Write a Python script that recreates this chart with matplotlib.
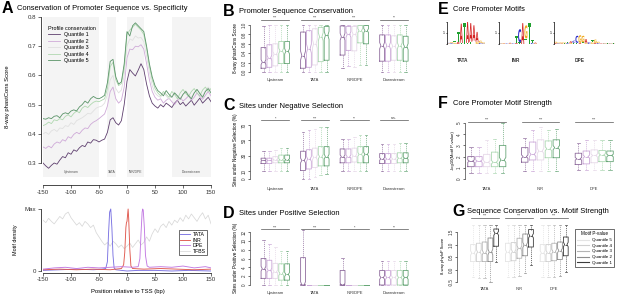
import numpy as np
import matplotlib
matplotlib.use('Agg')
import matplotlib.pyplot as plt
from matplotlib.lines import Line2D
from matplotlib.textpath import TextPath
from matplotlib.patches import PathPatch
from matplotlib.font_manager import FontProperties
import matplotlib.transforms as mtransforms

plt.rcParams['font.family'] = ['Liberation Sans', 'DejaVu Sans']
plt.rcParams['axes.unicode_minus'] = False
plt.rcParams['axes.linewidth'] = 0.5

# ---------------- data ----------------
# panel A, conservation profiles (every 5 bp from -150 to 150)
bp = np.arange(-150, 151, 5)
q1_prof = [.300, .290, .282, .292, .300, .296, .310, .322, .318, .335, .330, .345, .340, .352, .360, .356,
           .372, .368, .380, .378, .372, .378, .382, .405, .448, .455, .438, .430, .445, .500, .580, .620,
           .608, .598, .618, .640, .620, .570, .530, .505, .495, .488, .500, .492, .505, .498, .490, .505,
           .515, .500, .508, .495, .505, .515, .498, .510, .522, .505, .515, .525, .510]
q2_prof = [.355, .350, .358, .352, .365, .372, .368, .380, .375, .390, .385, .398, .405, .400, .412, .420,
           .418, .432, .440, .445, .452, .460, .468, .495, .545, .560, .520, .505, .515, .560, .660, .690,
           .688, .700, .698, .705, .690, .640, .585, .545, .525, .515, .520, .505, .515, .522, .510, .500,
           .515, .525, .512, .520, .530, .515, .525, .540, .528, .518, .532, .545, .530]
q3_prof = [.400, .405, .398, .410, .415, .408, .420, .418, .428, .425, .438, .432, .445, .450, .455, .462,
           .470, .468, .478, .488, .492, .495, .505, .535, .585, .600, .555, .540, .550, .600, .700, .725,
           .720, .735, .728, .730, .715, .665, .610, .565, .540, .530, .525, .540, .530, .518, .530, .542,
           .528, .520, .535, .548, .535, .525, .540, .552, .540, .530, .548, .560, .548]
q4_prof = [.428, .432, .440, .435, .448, .445, .452, .448, .460, .465, .458, .470, .478, .472, .488, .495,
           .490, .500, .508, .512, .510, .515, .520, .555, .630, .645, .585, .565, .572, .625, .740, .755,
           .765, .775, .765, .755, .740, .690, .630, .585, .555, .540, .530, .545, .535, .525, .545, .535,
           .520, .540, .552, .538, .528, .545, .555, .540, .530, .550, .560, .545, .555]
q5_prof = [.452, .450, .455, .452, .460, .462, .455, .468, .472, .468, .478, .482, .478, .492, .500, .512,
           .505, .520, .528, .522, .520, .525, .532, .575, .648, .655, .595, .570, .578, .640, .750, .735,
           .770, .780, .770, .760, .750, .700, .640, .595, .565, .548, .540, .530, .548, .535, .525, .540,
           .530, .518, .535, .545, .530, .520, .540, .552, .538, .525, .545, .555, .540]
profiles = [q1_prof, q2_prof, q3_prof, q4_prof, q5_prof]
prof_labels = ['Quantile 1', 'Quantile 2', 'Quantile 3', 'Quantile 4', 'Quantile 5']

# panel A, motif density (relative to max)
tfbs_y = [.82, .78, .85, .80, .76, .82, .88, .84, .92, .95, .86, .80, .74, .78, .72, .80, .76, .70, .74,
          .62, .55, .48, .42, .46, .40, .48, .44, .38, .42, .36, .40, .45, .38, .44, .50, .42, .46, .55,
          .48, .60, .68, .62, .72, .76, .70, .80, .74, .82, .78, .86, .80, .90, .84, .92, .86, .80, .88,
          .94, .84, .90, .76]
tata_x = [-150, -120, -90, -60, -45, -38, -35, -33, -31, -29, -27, -25, -23, -20, -10, 0, 20, 50, 80, 110, 150]
tata_y = [.01, .02, .03, .02, .03, .04, .15, .60, .95, 1.0, .70, .25, .05, .02, .01, .0, .01, .01, .0, .01, .0]
inr_x = [-150, -120, -90, -60, -30, -10, -6, -4, -2, -1, 0, 1, 2, 3, 5, 7, 10, 30, 60, 90, 120, 150]
inr_y = [.02, .03, .02, .03, .02, .04, .10, .30, .70, .78, .80, .90, 1.0, .85, .35, .08, .04, .03, .04, .03, .02, .03]
dpe_x = [-150, -130, -110, -90, -70, -50, -30, -10, 10, 20, 23, 25, 27, 28, 29, 31, 33, 36, 40, 60, 80, 100, 120, 140, 150]
dpe_y = [.03, .05, .06, .04, .06, .05, .06, .07, .06, .07, .20, .60, .95, 1.0, .98, .70, .25, .08, .06, .07,
         .06, .08, .05, .07, .05]

regions = ['Upstream', 'TATA', 'INR/DPE', 'Downstream']

# panel B, phastCons per region x quantile
b_lo = [[0, 0, 0, 0, 0], [0, 0, 0, 0, 0], [.08, .12, .10, .15, .15], [0, 0, 0, 0, 0]]
b_q1 = [[.08, .10, .13, .18, .18], [.08, .10, .15, .22, .25], [.36, .46, .45, .62, .60], [.23, .23, .25, .25, .23]]
b_med = [[.21, .30, .38, .45, .44], [.35, .50, .60, .75, .78], [.75, .80, .80, .88, .88], [.56, .56, .55, .56, .54]]
b_q3 = [[.52, .58, .60, .65, .65], [.85, .88, .92, .95, .97], [.98, .97, .97, .99, .99], [.79, .79, .77, .79, .76]]
b_hi = [[.97, 1, 1, 1, 1], [1, 1, 1, 1, 1], [1, 1, 1, 1, 1], [1, 1, 1, 1, 1]]
b_sig = ['***', '***', '***', '**']

# panel C, negative selection (%)
c_lo = [[11, 11, 11, 11, 11], [0, 0, 2, 5, 6], [11, 11, 11, 10, 10], [10, 10, 10, 10, 10]]
c_q1 = [[20, 20, 21, 21, 21], [11, 13, 15, 17, 17], [21, 21, 22, 21, 21], [20, 20, 20, 21, 21]]
c_med = [[24, 24, 25, 25, 25], [24, 26, 28, 29, 29], [29, 29, 30, 32, 32], [26, 26, 26, 27, 27]]
c_q3 = [[27, 27, 29, 31, 31], [36, 38, 40, 42, 42], [39, 39, 40, 42, 42], [33, 33, 33, 34, 34]]
c_hi = [[36, 36, 38, 40, 40], [61, 63, 65, 67, 67], [52, 52, 54, 57, 57], [45, 45, 45, 47, 47]]
c_sig = ['*', '***', '**', 'n.s.']

# panel D, positive selection (%)
d_lo = [[0, 0, 0, 0, 0]] * 4
d_q1 = [[1.5, 1.5, 1.5, 1.1, 1.1], [0, 0, 0, 0, 0], [0, 0, 0, 0, 0], [0, 0, 0, 0, 0]]
d_med = [[3.7, 3.3, 3.0, 2.6, 2.4], [0, 0, 0, 0, 0], [0, 0, 0, 0, 0], [1.7, 1.7, 1.7, 1.7, 1.7]]
d_q3 = [[6.0, 5.6, 4.9, 4.8, 4.8], [6.2, 0, 0, 0, 0], [3.3, 0, 0, 0, 0], [3.3, 3.3, 3.3, 3.3, 3.3]]
d_hi = [[10.2, 9.2, 8.5, 7.7, 7.7], [12.4, 0, 0, 0, 0], [6.1, 0, 0, 0, 0], [5.4, 5.4, 5.4, 5.4, 5.4]]
d_sig = ['***', '***', '*', '**']

motifs = ['TATA', 'INR', 'DPE']

# panel F, -log10 motif p-value
f_lo = [[.55, .55, .55, .55, .55], [.7, .7, .7, .7, .7], [.8, .8, .8, .8, .8]]
f_q1 = [[1.1, 1.1, 1.1, 1.1, 1.1], [1.5, 1.7, 1.7, 1.9, 1.9], [1.3, 1.35, 1.45, 1.55, 1.55]]
f_med = [[1.6, 1.6, 1.5, 1.5, 1.7], [2.0, 2.2, 2.5, 2.7, 2.8], [1.8, 2.0, 2.1, 2.15, 2.1]]
f_q3 = [[2.0, 2.0, 2.2, 2.4, 3.0], [2.8, 3.3, 3.5, 3.4, 3.5], [2.3, 2.5, 2.6, 2.55, 2.5]]
f_hi = [[2.9, 2.9, 3.5, 3.6, 5.0], [3.7, 4.4, 4.6, 4.4, 4.5], [3.2, 3.5, 3.5, 3.5, 3.5]]
f_sig = ['***', '***', '***']

# panel G, phyloP by motif p-value quantile (5 -> 1)
g_lo = [[-.3, -.35, -.35, -.5, .32], [-.3, -.3, -.25, -.15, .2], [-.3, -.3, -.3, -.25, -.1]]
g_q1 = [[.32, .32, .32, .32, .93], [.32, .35, .45, .55, .90], [.32, .32, .35, .40, .55]]
g_med = [[.66, .70, .68, .70, 1.45], [.70, .72, .85, .98, 1.35], [.66, .68, .72, .76, 1.0]]
g_q3 = [[1.0, 1.05, 1.1, 1.26, 1.62], [1.05, 1.08, 1.25, 1.42, 1.6], [1.0, 1.0, 1.05, 1.1, 1.3]]
g_hi = [[1.8, 1.8, 1.8, 1.8, 1.8], [1.8, 1.8, 1.8, 1.8, 1.8], [1.8, 1.8, 1.8, 1.8, 1.8]]
g_sig = ['***', '***', '***']
g_labels = ['Quantile 5', 'Quantile 4', 'Quantile 3', 'Quantile 2', 'Quantile 1']

# panel E, sequence logos (letter, bits) per column
tata_logo = [[('G', .05), ('C', .05)], [('C', .08), ('G', .1)], [('G', .1), ('T', .15)], [('A', .2), ('T', .9)],
             [('T', .1), ('A', 1.75)], [('T', 1.95)], [('T', .1), ('A', 1.9)], [('T', .2), ('A', 1.7)],
             [('T', .3), ('A', 1.4)], [('G', .2), ('A', .9)], [('C', .1), ('G', .2)], [('C', .05), ('G', .1)]]
inr_logo = [[('C', .04), ('G', .04)], [('A', .04), ('G', .04)], [('C', .05), ('T', .05)], [('G', .05), ('A', .06)],
            [('C', .05), ('T', .08)], [('A', .1), ('T', .6)], [('T', .15), ('C', 1.2)], [('A', 1.9)],
            [('T', .5), ('G', 1.2)], [('T', 1.95)], [('C', .1), ('T', .25)], [('G', .05), ('A', .08)]]
dpe_logo = [[('A', .08), ('G', .12)], [('C', .06), ('G', .08)], [('A', .05), ('G', .1)], [('T', .06), ('G', .08)],
            [('C', .1), ('T', .1)], [('G', .1), ('A', .15)], [('T', .1), ('C', .2)], [('T', .1), ('C', .65)],
            [('A', .1), ('G', .7)], [('T', .15), ('G', .6)], [('G', .1), ('A', .35)], [('C', .15), ('T', .25)],
            [('G', .15), ('T', .2)], [('A', .1), ('G', .3)], [('C', .08), ('G', .12)], [('A', .05), ('T', .06)],
            [('C', .04), ('G', .05)], [('A', .04), ('T', .04)], [('C', .04), ('G', .04)], [('A', .04), ('T', .04)]]

# ---------------- style ----------------
prof_cols = ['#5e3f6e', '#cfaad8', '#e0e0e0', '#b0d8b0', '#5a9468']
box_cols = ['#8f6c9d', '#cba8d8', '#e6d8e8', '#acd8b2', '#68a678']
grey_cols = ['#e4e4e4', '#d0d0d0', '#b4b4b4', '#8e8e8e', '#3c3c3c']
base_cols = {'A': '#d42020', 'C': '#2525c8', 'G': '#f0a818', 'T': '#20a030'}
shade = '#f4f4f4'

W, H = 617, 296
fig = plt.figure(figsize=(W / 100, H / 100), dpi=100)


def make_ax(x0, x1, y0, y1, xa, xb, ya, yb):
    # pixel box, plus two (pixel, value) anchors per axis
    ax = fig.add_axes([x0 / W, 1 - y1 / H, (x1 - x0) / W, (y1 - y0) / H])
    sx = (xb[1] - xa[1]) / (xb[0] - xa[0])
    ax.set_xlim(xa[1] + (x0 - xa[0]) * sx, xa[1] + (x1 - xa[0]) * sx)
    sy = (yb[1] - ya[1]) / (yb[0] - ya[0])
    ax.set_ylim(ya[1] + (y1 - ya[0]) * sy, ya[1] + (y0 - ya[0]) * sy)
    ax.patch.set_visible(False)
    return ax


def r_axis(ax, yticks, fs=3.3, rot=True):
    for s in ['top', 'right', 'bottom']:
        ax.spines[s].set_visible(False)
    ax.spines['left'].set_bounds(yticks[0], yticks[-1])
    ax.spines['left'].set_color('#444444')
    ax.set_yticks(yticks)
    ax.tick_params(axis='y', length=1.5, width=0.5, pad=0.8, labelsize=fs, colors='#333333')
    if rot:
        for lab in ax.get_yticklabels():
            lab.set_rotation(90)
            lab.set_va('center')


def box_panel(ax, lo, q1, med, q3, hi, cols, pitch, names, sig, sig_y, pad):
    for g in range(len(names)):
        for j in range(5):
            iqr = q3[g][j] - q1[g][j]
            st = dict(whislo=lo[g][j], q1=q1[g][j], med=med[g][j], q3=q3[g][j], whishi=hi[g][j],
                      cilo=max(q1[g][j], med[g][j] - 0.12 * iqr), cihi=min(q3[g][j], med[g][j] + 0.12 * iqr),
                      fliers=[])
            c = cols[j]
            ax.bxp([st], positions=[g * pitch + j], widths=0.82, capwidths=0.42, shownotches=True,
                   showfliers=False, manage_ticks=False,
                   boxprops=dict(color=c, lw=0.6), medianprops=dict(color=c, lw=0.6),
                   whiskerprops=dict(color=c, lw=0.5, ls=(0, (1.6, 1.4))), capprops=dict(color=c, lw=0.5))
        ax.plot([g * pitch - 0.4, g * pitch + 4.4], [sig_y, sig_y], color='#555555', lw=0.5, clip_on=False)
        ax.text(g * pitch + 2, sig_y, sig[g], ha='center', va='bottom', fontsize=2.6, color='#333333')
    ax.set_xticks([g * pitch + 2 for g in range(len(names))], names)
    ax.tick_params(axis='x', length=0, labelsize=2.9, pad=pad, colors='#333333')


def letter(ax, ch, x, y, w, h):
    tp = TextPath((0, 0), ch, size=1, prop=FontProperties(family='DejaVu Sans', weight='bold'))
    bb = tp.get_extents()
    tr = mtransforms.Affine2D().translate(-bb.x0, -bb.y0).scale(w / bb.width, h / bb.height).translate(x, y)
    ax.add_patch(PathPatch(tr.transform_path(tp), fc=base_cols[ch], ec='none'))


def logo(ax, cols_):
    for i, col in enumerate(cols_):
        y = 0
        for ch, h in sorted(col, key=lambda t: t[1]):
            letter(ax, ch, i + 0.03, y, 0.94, h)
            y += h
    for s in ['top', 'right', 'bottom']:
        ax.spines[s].set_visible(False)
    ax.spines['left'].set_bounds(0, 2)
    ax.set_yticks([0, 1, 2], ['', '1', ''])
    ax.set_xticks([])
    ax.tick_params(axis='y', length=1, width=0.5, pad=0.5, labelsize=2.5)


# ---------------- panel A ----------------
axA = make_ax(43, 211, 17, 177, (43, -150), (211, 150), (17, 0.8), (163, 0.3))
for a, b in [(-150, -50), (-35, -20), (0, 30), (80, 150)]:
    axA.axvspan(a, b, color=shade, lw=0, zorder=0)
for name, xc in zip(['Upstream', 'TATA', 'INR/DPE', 'Downstream'], [-100, -27.5, 15, 115]):
    axA.text(xc, 0.268, name, ha='center', va='center', fontsize=2.4, color='#555555')
for prof, col, lab in zip(profiles, prof_cols, prof_labels):
    axA.plot(bp, prof, color=col, lw=0.6, label=lab)
for s in ['top', 'right']:
    axA.spines[s].set_visible(False)
axA.spines['left'].set_bounds(0.3, 0.8)
axA.spines['left'].set_position(('outward', 1.5))
axA.spines['bottom'].set_bounds(-150, 150)
axA.spines['bottom'].set_position(('outward', 5.8))
axA.set_yticks([0.3, 0.4, 0.5, 0.6, 0.7, 0.8])
axA.set_xticks([-150, -100, -50, 0, 50, 100, 150])
axA.tick_params(length=2, width=0.5, pad=1.2, labelsize=4.4, colors='#333333')
leg = axA.legend(loc='upper left', bbox_to_anchor=(44 / W, 1 - 22 / H), bbox_transform=fig.transFigure,
                 frameon=False, fontsize=3.9, title='Profile conservation', title_fontsize=3.9,
                 handlelength=2.3, handletextpad=0.6, labelspacing=0.28, borderpad=0.2)
leg._legend_box.align = 'left'

axM = make_ax(43, 211, 205, 273, (43, -150), (211, 150), (271, 0), (209, 1))
axM.plot(bp, tfbs_y, color='#d8d8d8', lw=0.55, label='TFBS')
axM.plot(tata_x, tata_y, color='#7a72e2', lw=0.65, label='TATA')
axM.plot(inr_x, inr_y, color='#e0584e', lw=0.65, label='INR')
axM.plot(dpe_x, dpe_y, color='#c27ae2', lw=0.65, label='DPE')
for s in ['top', 'right']:
    axM.spines[s].set_visible(False)
axM.spines['left'].set_bounds(0, 1)
axM.spines['left'].set_position(('outward', 1.5))
axM.spines['bottom'].set_bounds(-150, 150)
axM.set_yticks([0, 1], ['0', 'Max'])
axM.set_xticks([-150, -100, -50, 0, 50, 100, 150])
axM.tick_params(length=2, width=0.5, pad=1.2, labelsize=4.4, colors='#333333')
h_, l_ = axM.get_legend_handles_labels()
order = [1, 2, 3, 0]
lg2 = axM.legend([h_[i] for i in order], [l_[i] for i in order], loc='lower right',
                 bbox_to_anchor=(210 / W, 1 - 258 / H), bbox_transform=fig.transFigure,
                 fontsize=3.7, handlelength=2.0, handletextpad=0.5, labelspacing=0.12, borderpad=0.3,
                 fancybox=False, edgecolor='#333333', framealpha=1)
lg2.get_frame().set_linewidth(0.5)

fig.text(2 / W, 1 - 8.5 / H, 'A', fontsize=11.5, fontweight='bold', va='center')
fig.text(17 / W, 1 - 8 / H, 'Conservation of Promoter Sequence vs. Specificity', fontsize=5.4, va='center')
fig.text(8 / W, 1 - 97 / H, '8-way phastCons Score', fontsize=4.2, rotation=90, ha='center', va='center')
fig.text(15 / W, 1 - 240 / H, 'Motif density', fontsize=3.9, rotation=90, ha='center', va='center')
fig.text(128 / W, 1 - 291 / H, 'Position relative to TSS (bp)', fontsize=4.2, ha='center', va='center')

# ---------------- panels B, C, D ----------------
bx = ((263.5, 0), (269.4, 1))
axB = make_ax(250, 415, 19, 76, bx[0], bx[1], (72, 0), (25, 1))
r_axis(axB, [0, 0.2, 0.4, 0.6, 0.8, 1.0])
box_panel(axB, b_lo, b_q1, b_med, b_q3, b_hi, box_cols, 6.7, regions, b_sig, 1.11, 1.5)

axC = make_ax(250, 415, 120, 182, bx[0], bx[1], (179, 0), (125, 70))
r_axis(axC, [0, 10, 30, 50, 70])
box_panel(axC, c_lo, c_q1, c_med, c_q3, c_hi, box_cols, 6.7, regions, c_sig, 76, 3.5)

axD = make_ax(250, 415, 228, 287, bx[0], bx[1], (285, 0), (232, 12))
r_axis(axD, [0, 2, 4, 6, 8, 10, 12])
box_panel(axD, d_lo, d_q1, d_med, d_q3, d_hi, box_cols, 6.7, regions, d_sig, 12.6, 3.0)

for let, ty, tt, yl, yc in [('B', 11, 'Promoter Sequence Conservation', '8-way phastCons Score', 48),
                            ('C', 106, 'Sites under Negative Selection', 'Sites under Negative Selection (%)', 150),
                            ('D', 213, 'Sites under Positive Selection', 'Sites under Positive Selection (%)', 258)]:
    fig.text(223 / W, 1 - ty / H, let, fontsize=11.5, fontweight='bold', va='center')
    fig.text(239 / W, 1 - (ty + 0.5) / H, tt, fontsize=5.4, va='center')
    fig.text(236 / W, 1 - yc / H, yl, fontsize=3.3, rotation=90, ha='center', va='center')

# ---------------- panel E ----------------
for cols_, x0, x1, name, xc in [(tata_logo, 447, 485, 'TATA', 463), (inr_logo, 499, 537, 'INR', 516),
                                (dpe_logo, 554, 615, 'DPE', 580)]:
    axL = make_ax(x0, x1, 21, 44, (x0, 0), (x1, len(cols_)), (44, 0), (22, 2))
    logo(axL, cols_)
    fig.text(xc / W, 1 - 60 / H, name, fontsize=3.4, ha='center', va='center', fontweight='bold', color='#333333')
fig.text(438 / W, 1 - 9 / H, 'E', fontsize=11.5, fontweight='bold', va='center')
fig.text(453 / W, 1 - 9.5 / H, 'Core Promoter Motifs', fontsize=5.4, va='center')

# ---------------- panel F ----------------
axF = make_ax(465, 617, 116, 182, (471, 0), (478.9, 1), (179, 0), (123, 5))
r_axis(axF, [0, 1, 2, 3, 4, 5])
box_panel(axF, f_lo, f_q1, f_med, f_q3, f_hi, box_cols, 6.8, motifs, f_sig, 5.1, 3.5)
fig.text(438 / W, 1 - 103 / H, 'F', fontsize=11.5, fontweight='bold', va='center')
fig.text(453 / W, 1 - 103.5 / H, 'Core Promoter Motif Strength', fontsize=5.4, va='center')
fig.text(453 / W, 1 - 151 / H, '-log10(Motif P-value)', fontsize=3.1, rotation=90, ha='center', va='center')

# ---------------- panel G ----------------
axG = make_ax(457, 572, 214, 284, (473, 0), (478.8, 1), (232, 1.5), (282, -0.5))
r_axis(axG, [-0.5, 0.0, 0.5, 1.0, 1.5])
box_panel(axG, g_lo, g_q1, g_med, g_q3, g_hi, grey_cols, 6, motifs, g_sig, 2.06, 2.0)
gh = [Line2D([], [], color=c, lw=0.8) for c in grey_cols]
lg3 = axG.legend(gh, g_labels, loc='upper left', bbox_to_anchor=(573 / W, 1 - 227 / H),
                 bbox_transform=fig.transFigure, fontsize=3.2, title='Motif P-value', title_fontsize=3.3,
                 handlelength=2.6, handletextpad=0.6, labelspacing=0.35, borderpad=0.5,
                 fancybox=False, edgecolor='#333333', framealpha=1)
lg3.get_frame().set_linewidth(0.5)
fig.text(452 / W, 1 - 211 / H, 'G', fontsize=11.5, fontweight='bold', va='center')
fig.text(467 / W, 1 - 211.5 / H, 'Sequence Conservation vs. Motif Strength', fontsize=5.4, va='center')
fig.text(443 / W, 1 - 256 / H, '8-way phyloP Score', fontsize=3.0, rotation=90, ha='center', va='center')

fig.savefig('out.png', dpi=100)
